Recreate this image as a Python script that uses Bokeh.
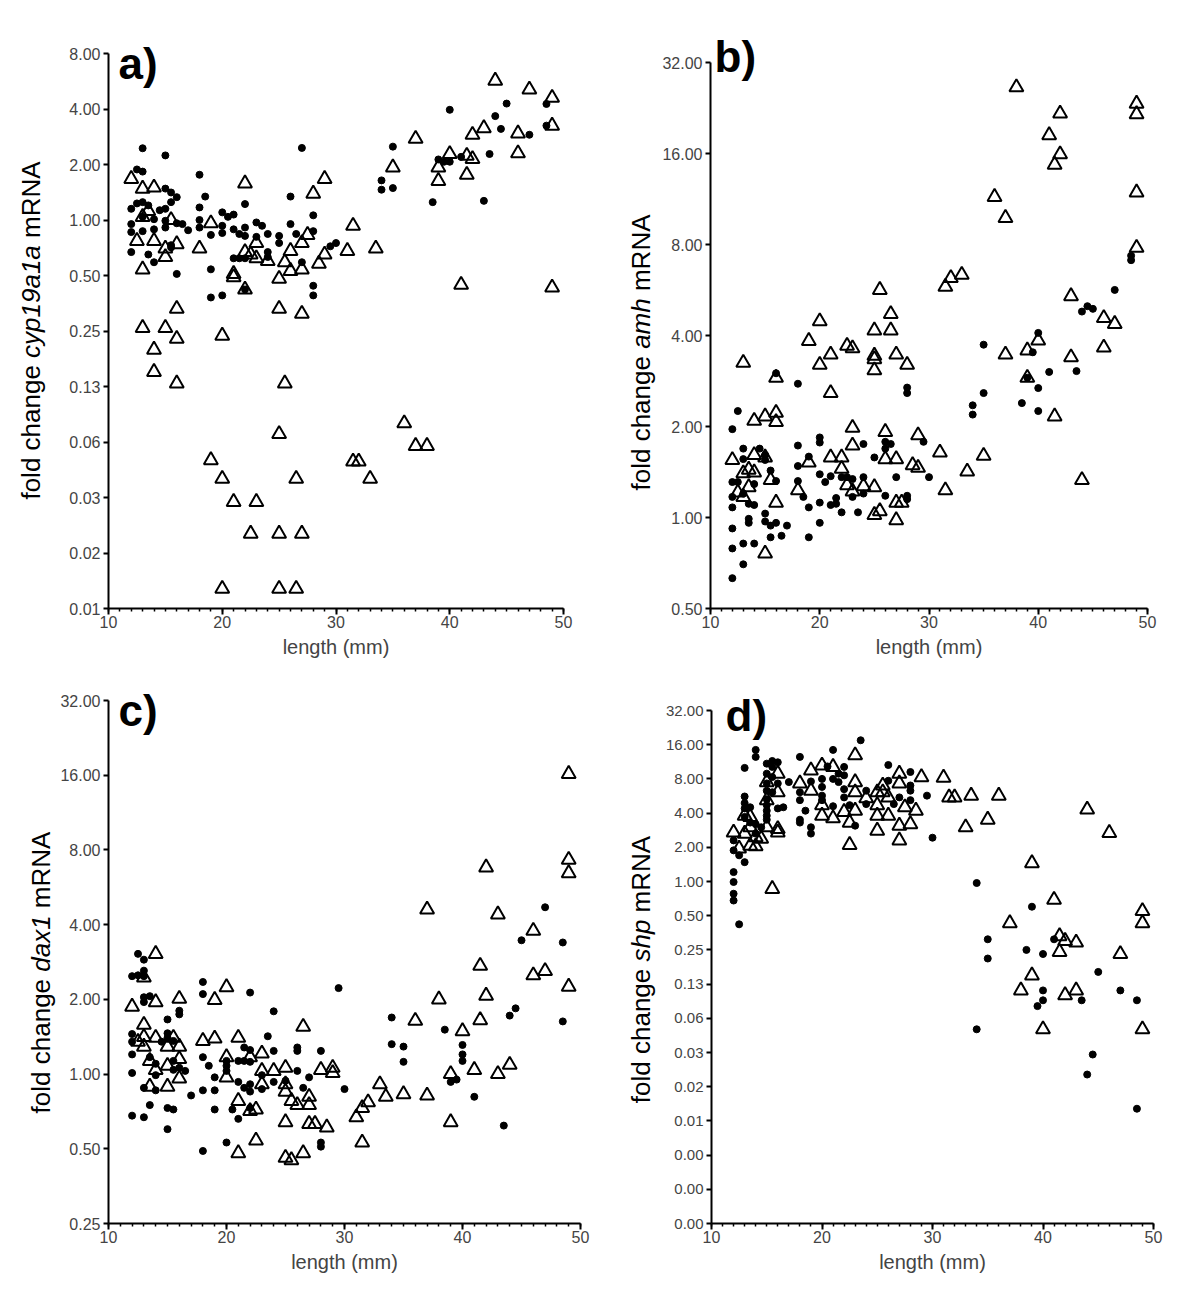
import math
from bokeh.plotting import figure
from bokeh.models import Range1d, FixedTicker, SingleIntervalTicker, CustomJSTickFormatter, Label
from bokeh.layouts import column, row
from bokeh.embed import file_html
from bokeh.resources import INLINE

# ---------------- data ----------------
# panel a: cyp19a1a
a_circ_x = [13.0,15.0,27.0,12.5,13.0,18.0,15.0,15.5,16.0,18.5,26.0,12.5,13.0,12.0,13.5,15.0,14.5,15.5,22.0,18.0,20.0,21.0,20.5,13.0,14.0,12.0,15.0,15.0,16.0,16.5,17.0,18.0,18.0,20.0,20.0,19.0,21.0,21.5,22.0,22.0,23.0,23.5,24.0,23.0,25.0,25.0,26.0,26.5,28.0,28.0,12.0,13.5,14.0,15.5,15.5,14.0,13.0,12.0,16.0,19.0,21.0,21.5,22.0,24.0,24.0,27.0,29.5,30.0,19.0,20.0,28.0,28.0,22.0,
            40.0,45.0,48.5,44.0,44.5,48.5,47.0,35.0,43.5,39.0,39.5,40.0,41.0,34.0,34.0,35.0,38.5,43.0]
a_circ_y = [2.45,2.24,2.46,1.88,1.83,1.76,1.48,1.41,1.33,1.34,1.34,1.23,1.25,1.15,1.2,1.15,1.13,1.25,1.22,1.17,1.10,1.07,1.04,1.04,1.01,0.95,0.99,0.91,0.96,0.95,0.88,1.0,0.91,0.93,0.85,0.83,0.89,0.84,0.91,0.82,0.97,0.93,0.84,0.81,0.82,0.75,0.95,0.84,1.06,0.87,0.67,0.65,0.59,0.73,0.71,0.89,0.87,0.86,0.51,0.54,0.62,0.62,0.62,0.67,0.63,0.59,0.72,0.75,0.38,0.39,0.44,0.39,0.42,
            3.96,4.28,4.26,3.66,3.12,3.25,2.9,2.5,2.28,2.13,2.07,2.07,2.2,1.64,1.46,1.49,1.25,1.27]
a_tri_x = [12.0,13.0,14.0,22.0,29.0,28.0,13.5,13.0,15.5,19.0,31.5,12.5,14.0,16.0,15.0,15.0,18.0,23.0,22.0,22.5,23.0,24.0,26.0,27.0,27.5,29.0,31.0,25.5,28.5,26.0,27.0,25.0,13.0,21.0,21.0,22.0,16.0,25.0,27.0,13.0,15.0,
           16.0,20.0,14.0,14.0,16.0,25.5,36.0,37.0,38.0,25.0,19.0,20.0,26.5,31.5,32.0,33.0,21.0,23.0,22.5,25.0,27.0,20.0,25.0,26.5,
           44.0,47.0,49.0,49.0,43.0,42.0,46.0,37.0,46.0,40.0,41.5,42.0,35.0,39.0,41.5,39.0,33.5,41.0,49.0]
a_tri_y = [1.67,1.48,1.5,1.58,1.67,1.39,1.12,1.04,1.0,0.96,0.93,0.77,0.77,0.74,0.70,0.63,0.70,0.75,0.67,0.65,0.62,0.60,0.68,0.75,0.83,0.65,0.68,0.59,0.58,0.53,0.54,0.48,0.54,0.51,0.49,0.42,0.33,0.33,0.31,0.26,0.26,
           0.227,0.236,0.198,0.15,0.13,0.13,0.079,0.0595,0.0595,0.069,0.0498,0.0395,0.0395,0.049,0.049,0.0395,0.0296,0.0296,0.0199,0.0199,0.0199,0.0100,0.0100,0.0100,
           5.7,5.1,4.6,3.25,3.15,2.9,2.95,2.76,2.3,2.28,2.23,2.14,1.93,1.93,1.76,1.63,0.70,0.445,0.43]

# panel b: amh
b_circ_x = [48.5,48.5,47.0,44.0,44.5,45.0,12.0,12.5,18.0,16.0,13.0,13.0,14.5,15.0,15.0,15.5,16.0,12.0,12.5,14.0,12.0,12.0,13.0,13.5,14.0,15.0,13.5,13.5,15.0,15.5,16.0,17.0,12.0,12.0,13.0,14.0,13.0,15.5,16.5,12.0,
            18.0,18.0,18.0,18.5,19.0,19.0,19.0,20.0,20.0,20.0,20.0,20.0,20.5,21.0,21.0,21.5,21.5,22.0,22.0,22.5,23.0,23.0,23.5,24.0,24.0,24.0,25.0,26.0,26.0,26.5,26.0,27.0,28.0,28.0,29.5,30.0,28.0,28.0,
            40.0,35.0,39.5,41.0,43.5,39.0,40.0,35.0,34.0,34.0,38.5,40.0]
b_circ_y = [7.35,7.1,5.66,4.8,5.0,4.9,1.96,2.25,2.77,3.0,1.69,1.56,1.69,1.61,1.55,1.43,1.32,1.31,1.31,1.29,1.17,1.08,1.2,1.11,1.1,1.03,0.99,0.96,0.97,0.94,0.96,0.94,0.92,0.79,0.82,0.82,0.70,0.86,0.87,0.63,
            1.73,1.48,1.32,1.17,1.59,1.08,0.86,1.84,1.77,1.39,1.12,0.96,1.31,1.37,1.1,1.16,1.11,1.04,1.36,1.36,1.34,1.17,1.04,1.75,1.36,1.2,1.58,1.78,1.69,1.75,1.18,1.36,1.18,1.15,1.78,1.36,2.69,2.58,
            4.08,3.73,3.52,3.03,3.05,2.9,2.68,2.58,2.35,2.19,2.39,2.25]
b_tri_x = [38.0,42.0,49.0,49.0,41.0,42.0,41.5,49.0,36.0,37.0,49.0,31.5,32.0,33.0,25.5,26.5,43.0,46.0,47.0,20.0,25.0,26.5,
           19.0,13.0,20.0,21.0,22.5,23.0,25.0,25.0,25.0,27.0,28.0,16.0,21.0,14.0,15.0,16.0,16.0,23.0,23.0,26.0,29.0,12.0,14.0,15.0,13.0,13.5,14.0,15.5,12.5,13.0,13.5,16.0,18.0,19.0,21.0,22.0,22.0,22.5,23.0,24.0,25.0,26.0,27.0,28.5,29.0,25.5,25.0,27.0,27.0,27.5,15.0,
           40.0,39.0,37.0,43.0,46.0,39.0,41.5,31.0,35.0,33.5,31.5,44.0]
b_tri_y = [26.5,21.7,23.4,21.6,18.4,15.9,14.7,11.9,11.5,9.8,7.8,5.8,6.2,6.35,5.66,4.71,5.4,4.57,4.37,4.46,4.16,4.16,
           3.84,3.25,3.2,3.46,3.7,3.63,3.43,3.34,3.07,3.46,3.2,2.9,2.58,2.09,2.16,2.22,2.07,1.98,1.73,1.92,1.87,1.55,1.61,1.58,1.4,1.44,1.41,1.33,1.21,1.17,1.26,1.12,1.23,1.52,1.58,1.58,1.45,1.28,1.22,1.27,1.26,1.56,1.56,1.49,1.46,1.05,1.02,0.98,1.12,1.12,0.76,
           3.85,3.57,3.46,3.39,3.65,2.9,2.16,1.64,1.6,1.42,1.23,1.33]

# panel c: dax1
c_circ_x = [12.5,13.0,12.0,12.5,13.0,13.0,13.0,13.0,13.5,16.0,16.0,15.0,18.0,18.0,22.0,24.0,29.5,12.0,12.0,12.0,12.0,15.0,15.0,15.5,14.0,14.0,13.5,15.5,15.5,16.0,16.5,14.5,
            13.0,14.0,13.5,15.0,15.5,12.0,13.0,15.0,17.0,18.0,18.5,18.0,19.0,19.0,19.0,18.0,20.0,20.0,20.0,21.0,21.5,22.0,21.5,22.0,21.0,21.5,22.0,22.0,20.5,21.0,22.0,20.0,
            23.5,24.0,24.0,23.0,23.0,25.0,26.0,26.0,26.0,27.0,26.5,28.0,28.0,28.0,30.0,
            47.0,45.0,48.5,34.0,38.5,44.0,44.5,48.5,34.0,35.0,35.0,40.0,40.0,40.0,39.0,39.5,41.0,43.5]
c_circ_y = [3.05,2.89,2.48,2.5,2.61,2.48,2.04,1.95,2.06,1.8,1.74,1.66,2.35,2.1,2.13,1.79,2.22,1.45,1.35,1.2,1.01,1.46,1.4,1.36,1.1,0.99,1.17,1.13,1.04,1.06,1.03,1.35,
            0.88,0.86,0.75,0.73,0.72,0.68,0.67,0.6,0.82,1.17,1.08,0.86,0.97,0.86,0.72,0.49,1.13,1.08,1.03,1.13,1.13,1.12,1.28,1.25,0.93,0.88,0.91,0.85,0.72,0.66,0.73,0.53,
            1.42,1.24,0.93,0.99,0.87,0.94,1.28,1.24,1.03,0.97,0.88,1.24,0.53,0.51,0.87,
            4.7,3.46,3.39,1.69,1.51,1.72,1.84,1.63,1.32,1.29,1.12,1.31,1.2,1.13,0.93,0.95,0.81,0.62]
c_tri_x = [14.0,13.0,12.0,14.0,16.0,13.0,13.0,12.5,13.0,14.0,15.0,16.0,15.5,13.5,14.0,15.0,16.0,16.0,15.0,13.5,18.0,19.0,21.0,20.0,19.0,
           20.0,20.0,22.0,23.0,23.0,23.0,24.0,25.0,25.0,25.0,26.5,21.0,22.0,22.5,25.5,26.0,27.0,27.0,28.0,29.0,29.0,25.0,27.0,27.5,28.5,22.5,21.0,25.0,25.5,26.5,31.0,31.5,31.5,
           49.0,42.0,49.0,49.0,37.0,43.0,46.0,41.5,46.0,47.0,49.0,38.0,42.0,36.0,41.5,40.0,33.0,33.5,35.0,37.0,32.0,39.0,41.0,43.0,44.0,39.0]
c_tri_y = [3.05,2.45,1.87,1.95,2.01,1.58,1.41,1.35,1.29,1.4,1.29,1.29,1.4,1.13,1.04,1.08,1.15,0.96,0.89,0.89,1.36,1.39,1.4,2.24,1.99,
           1.17,0.97,1.17,1.21,1.03,0.91,1.03,1.06,0.91,0.85,1.55,0.78,0.71,0.72,0.78,0.75,0.81,0.75,1.04,1.06,1.01,0.64,0.63,0.63,0.61,0.54,0.48,0.46,0.45,0.48,0.67,0.73,0.53,
           16.2,6.8,7.3,6.45,4.6,4.4,3.78,2.73,2.5,2.6,2.25,2.0,2.07,1.64,1.65,1.49,0.91,0.81,0.83,0.82,0.77,1.0,1.04,1.0,1.09,0.64]

# panel d: shp
d_circ_x = [14.0,14.0,13.0,15.0,15.5,16.0,15.5,15.0,15.5,15.0,16.0,15.0,15.5,15.0,15.0,15.0,15.0,15.0,13.0,13.0,13.0,13.5,13.0,14.0,13.5,14.5,14.0,12.0,12.0,12.5,13.0,12.0,12.0,12.0,12.0,12.5,
            16.0,16.5,17.0,18.0,18.0,18.0,18.5,18.0,18.0,19.0,19.0,19.0,20.0,20.0,20.0,20.0,20.5,21.0,21.0,21.0,21.5,21.5,22.0,22.0,22.0,22.0,22.5,23.0,23.5,24.0,24.0,26.0,26.0,26.5,27.0,28.0,28.0,28.0,28.0,29.5,30.0,
            34.0,39.0,35.0,35.0,41.0,38.5,40.0,45.0,40.0,40.0,39.5,43.5,47.0,48.5,34.0,44.5,44.0,48.5]
d_circ_y = [14.4,12.5,10.0,10.9,11.5,11.2,10.2,8.9,8.3,7.3,7.3,6.3,6.1,5.3,4.7,4.2,3.8,3.5,5.6,4.9,4.4,4.5,3.7,3.2,3.3,3.0,2.64,2.3,1.88,1.7,1.48,1.21,0.99,0.78,0.68,0.42,
            4.4,4.5,7.5,12.5,6.1,5.2,4.2,3.5,3.3,3.0,2.64,7.6,8.0,6.8,5.7,5.2,10.3,14.4,8.0,4.6,8.9,7.5,10.2,8.6,6.5,5.5,4.7,3.1,17.5,6.3,4.8,10.6,7.7,4.8,5.5,9.2,7.0,6.3,5.2,5.7,2.43,
            0.97,0.6,0.31,0.21,0.31,0.25,0.23,0.16,0.11,0.09,0.08,0.09,0.11,0.09,0.05,0.030,0.020,0.010]
d_tri_x = [12.0,12.5,13.0,13.5,13.0,13.5,14.0,13.5,14.0,14.5,15.0,15.0,15.0,16.0,16.0,16.0,16.0,15.5,
           18.0,19.0,19.0,20.0,20.0,20.0,21.0,21.0,22.0,22.5,22.5,23.0,23.0,23.0,23.0,24.0,25.0,25.0,25.0,25.0,25.5,25.5,26.0,26.0,27.0,27.0,27.0,27.0,27.5,28.0,28.5,29.0,
           31.0,31.5,32.0,33.5,36.0,33.0,35.0,44.0,46.0,39.0,41.0,37.0,49.0,49.0,41.5,42.0,43.0,41.5,47.0,39.0,38.0,42.0,43.0,40.0,49.0]
d_tri_y = [2.7,1.95,3.8,3.7,2.64,3.0,2.46,2.07,2.04,2.38,7.5,5.2,3.0,8.9,6.1,2.9,2.7,0.86,
           7.3,9.5,6.3,10.5,4.7,3.8,10.2,3.6,4.1,3.3,2.1,12.9,7.5,6.1,4.2,5.4,6.1,4.7,3.8,2.8,7.0,6.1,5.5,3.8,8.9,7.3,3.1,2.3,4.5,3.2,4.2,8.3,
           8.2,5.5,5.5,5.7,5.7,3.0,3.5,4.3,2.68,1.45,0.69,0.43,0.55,0.43,0.33,0.30,0.29,0.24,0.23,0.149,0.11,0.10,0.11,0.05,0.05]

# ---------------- helpers ----------------
CW = {'f': 278, 'o': 556, 'l': 222, 'd': 556, ' ': 278, 'c': 500, 'h': 556, 'a': 556, 'n': 556,
      'g': 556, 'e': 556, 'y': 500, 'p': 556, '1': 556, '9': 556, 'm': 833, 'x': 500, 's': 500,
      'R': 722, 'N': 722, 'A': 667}

def tw(s, fs):
    return sum(CW.get(ch, 556) for ch in s) * fs / 1000.0

FONT = "Liberation Sans"

def no_align(p):
    try:
        p.frame_align = False
    except Exception:
        pass

def title_fig(w, h, gene, xc, yc, fs=26):
    t = figure(width=w, height=h, x_range=Range1d(0, w), y_range=Range1d(0, h),
               x_axis_location=None, y_axis_location=None, output_backend="svg", toolbar_location=None,
               min_border_left=0, min_border_right=0, min_border_top=0, min_border_bottom=0)
    t.outline_line_color = None
    t.xgrid.visible = False
    t.ygrid.visible = False
    no_align(t)
    parts = [("fold change", "normal"), (gene, "italic"), ("mRNA", "normal")]
    sp = tw(" ", fs)
    widths = [tw(s, fs) for s, _ in parts]
    total = sum(widths) + 2 * sp
    y0 = yc - total / 2.0
    for (s, st), wd in zip(parts, widths):
        t.add_layout(Label(x=xc, y=y0, text=s, angle=math.pi / 2, text_align="left", text_baseline="middle",
                           text_font=FONT, text_font_size=f"{fs}px", text_font_style=st, text_color="black"))
        y0 += wd + sp
    return t

def panel(w, h, left, right, top_tick, bottom, frame_top, ylo, yhi, cx, cy, tx, ty,
          letter, let_dx, let_dy, tick_fs="16px"):
    ppd = (bottom - top_tick) / float(yhi - ylo)
    ytop = yhi + (top_tick - frame_top) / ppd
    p = figure(width=w, height=h, x_range=Range1d(10, 50), y_range=Range1d(2.0 ** ylo, 2.0 ** ytop),
               y_axis_type="log", output_backend="svg", toolbar_location=None,
               min_border_left=left, min_border_top=frame_top, min_border_right=right, min_border_bottom=h - bottom)
    no_align(p)
    p.outline_line_color = None
    p.background_fill_color = "white"
    p.border_fill_color = "white"
    p.xgrid.visible = False
    p.ygrid.visible = False

    p.scatter(tx, ty, marker="triangle", size=14, fill_color=None, line_color="black", line_width=2)
    p.scatter(cx, cy, marker="circle", size=7, fill_color="black", line_color="black")

    xa = p.xaxis[0]
    xa.ticker = SingleIntervalTicker(interval=10, num_minor_ticks=10)
    xa.axis_label = "length (mm)"
    xa.axis_label_text_font = FONT
    xa.axis_label_text_font_style = "normal"
    xa.axis_label_text_font_size = "20px"
    xa.axis_label_standoff = 5
    xa.major_label_text_font = FONT
    xa.major_label_text_font_size = "16px"
    xa.major_label_standoff = 1
    xa.major_tick_out = 6
    xa.major_tick_in = 0
    xa.minor_tick_out = 3
    xa.minor_tick_in = 0
    xa.axis_line_width = 2
    xa.major_tick_line_width = 2
    xa.minor_tick_line_width = 1.5

    ya = p.yaxis[0]
    ya.bounds = (2.0 ** ylo, 2.0 ** yhi)
    ya.ticker = FixedTicker(ticks=[2.0 ** k for k in range(ylo, yhi + 1)], minor_ticks=[])
    ya.formatter = CustomJSTickFormatter(code="return tick.toFixed(2);")
    ya.major_label_text_font = FONT
    ya.major_label_text_font_size = tick_fs
    ya.major_label_standoff = 3
    ya.major_tick_out = 5
    ya.major_tick_in = 0
    ya.axis_line_width = 2
    ya.major_tick_line_width = 2

    p.add_layout(Label(x=10, y=2.0 ** yhi, x_offset=let_dx, y_offset=let_dy,
                       text=letter, text_align="left", text_baseline="alphabetic",
                       text_font=FONT, text_font_size="44px", text_font_style="bold", text_color="black"))
    return p

H1, H2 = 662, 628
ta = title_fig(56, H1, "cyp19a1a", 30, H1 - 330)
pa = panel(552, H1, 52, 45, 53, 608, 16, -7, 3, a_circ_x, a_circ_y, a_tri_x, a_tri_y, "a)", 10, -10)
tb = title_fig(48, H1, "amh", 32, H1 - 352)
pb = panel(536, H1, 54, 45, 62, 608, 16, -1, 5, b_circ_x, b_circ_y, b_tri_x, b_tri_y, "b)", 4, 6)
tc = title_fig(56, H2, "dax1", 40, H2 - 310)
pc = panel(552, H2, 52, 28, 38, 561, 4, -2, 5, c_circ_x, c_circ_y, c_tri_x, c_tri_y, "c)", 10, -10)
td = title_fig(48, H2, "shp", 32, H2 - 307)
pd = panel(536, H2, 55, 39, 48, 561, 4, -10, 5, d_circ_x, d_circ_y, d_tri_x, d_tri_y, "d)", 14, -5, tick_fs="15px")

layout = column(row(ta, pa, tb, pb), row(tc, pc, td, pd))
open("out.html", "w").write(file_html(layout, INLINE))
